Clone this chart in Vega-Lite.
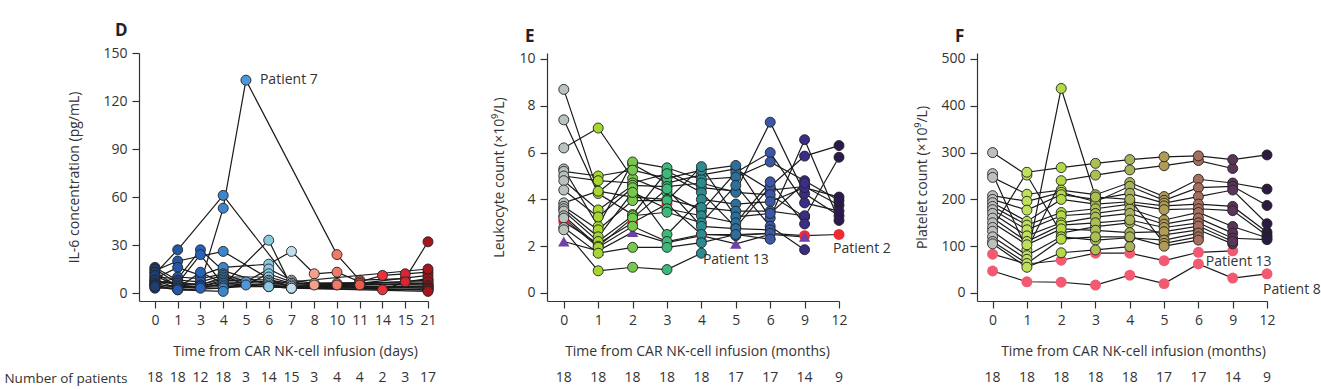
{
"$schema": "https://vega.github.io/schema/vega-lite/v6.json",
"padding": {"left": 3, "top": 22, "right": 0, "bottom": 0},
"background": "white",
"config": {
 "view": {"stroke": null},
 "font": "Open Sans",
 "axis": {"labelFont": "Open Sans", "titleFont": "Open Sans", "labelFontSize": 14, "titleFontSize": 14, "titleFontWeight": "normal", "labelColor": "#333", "titleColor": "#333", "domainColor": "#333", "tickColor": "#333", "domainWidth": 1.2, "tickWidth": 1.2, "tickSize": 7, "grid": false, "labelPadding": 5},
 "text": {"font": "Open Sans", "fontSize": 14, "color": "#333"}
},
"datasets": {
 "d": [
  {"p":1,"t":0,"v":8},{"p":1,"t":1,"v":5},{"p":1,"t":3,"v":6},{"p":1,"t":4,"v":53},{"p":1,"t":5,"v":133},{"p":1,"t":10,"v":24},{"p":1,"t":11,"v":8},{"p":1,"t":15,"v":9},{"p":1,"t":21,"v":32},
  {"p":2,"t":0,"v":12},{"p":2,"t":1,"v":27},{"p":2,"t":4,"v":61},{"p":2,"t":7,"v":6},{"p":2,"t":21,"v":5},
  {"p":3,"t":0,"v":10},{"p":3,"t":1,"v":9},{"p":3,"t":3,"v":27},{"p":3,"t":4,"v":14},{"p":3,"t":6,"v":5},{"p":3,"t":7,"v":5},{"p":3,"t":21,"v":6},
  {"p":4,"t":0,"v":7},{"p":4,"t":1,"v":6},{"p":4,"t":3,"v":24},{"p":4,"t":4,"v":5},{"p":4,"t":6,"v":33},{"p":4,"t":7,"v":4},{"p":4,"t":21,"v":4},
  {"p":5,"t":0,"v":14},{"p":5,"t":1,"v":20},{"p":5,"t":4,"v":26},{"p":5,"t":6,"v":9},{"p":5,"t":7,"v":3},{"p":5,"t":21,"v":8},
  {"p":6,"t":0,"v":9},{"p":6,"t":1,"v":16},{"p":6,"t":3,"v":11},{"p":6,"t":4,"v":16},{"p":6,"t":6,"v":18},{"p":6,"t":7,"v":26},{"p":6,"t":8,"v":12},{"p":6,"t":10,"v":13},{"p":6,"t":11,"v":7},{"p":6,"t":14,"v":11},{"p":6,"t":15,"v":12},{"p":6,"t":21,"v":13},
  {"p":7,"t":0,"v":5},{"p":7,"t":1,"v":10},{"p":7,"t":3,"v":9},{"p":7,"t":4,"v":12},{"p":7,"t":5,"v":7},{"p":7,"t":6,"v":15},{"p":7,"t":7,"v":8},{"p":7,"t":8,"v":6},{"p":7,"t":10,"v":6},{"p":7,"t":11,"v":6},{"p":7,"t":21,"v":11},
  {"p":8,"t":0,"v":16},{"p":8,"t":1,"v":8},{"p":8,"t":3,"v":7},{"p":8,"t":4,"v":11},{"p":8,"t":5,"v":5},{"p":8,"t":6,"v":12},{"p":8,"t":7,"v":7},{"p":8,"t":8,"v":5},{"p":8,"t":10,"v":5},{"p":8,"t":11,"v":5},{"p":8,"t":14,"v":2},{"p":8,"t":15,"v":7},{"p":8,"t":21,"v":9},
  {"p":9,"t":0,"v":6},{"p":9,"t":1,"v":7},{"p":9,"t":3,"v":5},{"p":9,"t":4,"v":10},{"p":9,"t":6,"v":10},{"p":9,"t":7,"v":6},{"p":9,"t":21,"v":7},
  {"p":10,"t":0,"v":15},{"p":10,"t":1,"v":6},{"p":10,"t":3,"v":5},{"p":10,"t":4,"v":9},{"p":10,"t":6,"v":8},{"p":10,"t":7,"v":6},{"p":10,"t":21,"v":5},
  {"p":11,"t":0,"v":4},{"p":11,"t":1,"v":5},{"p":11,"t":3,"v":4},{"p":11,"t":4,"v":8},{"p":11,"t":6,"v":7},{"p":11,"t":7,"v":5},{"p":11,"t":21,"v":4},
  {"p":12,"t":0,"v":13},{"p":12,"t":1,"v":4},{"p":12,"t":3,"v":4},{"p":12,"t":4,"v":7},{"p":12,"t":6,"v":6},{"p":12,"t":7,"v":5},{"p":12,"t":21,"v":3},
  {"p":13,"t":0,"v":11},{"p":13,"t":1,"v":4},{"p":13,"t":3,"v":3},{"p":13,"t":4,"v":6},{"p":13,"t":6,"v":5},{"p":13,"t":7,"v":4},{"p":13,"t":21,"v":3},
  {"p":14,"t":0,"v":3},{"p":14,"t":1,"v":3},{"p":14,"t":3,"v":13},{"p":14,"t":4,"v":6},{"p":14,"t":6,"v":4},{"p":14,"t":7,"v":4},{"p":14,"t":21,"v":2},
  {"p":15,"t":0,"v":8},{"p":15,"t":1,"v":3},{"p":15,"t":4,"v":5},{"p":15,"t":6,"v":4},{"p":15,"t":7,"v":3},{"p":15,"t":21,"v":2},
  {"p":16,"t":0,"v":6},{"p":16,"t":1,"v":3},{"p":16,"t":4,"v":4},{"p":16,"t":6,"v":4},{"p":16,"t":7,"v":3},{"p":16,"t":21,"v":1},
  {"p":17,"t":0,"v":5},{"p":17,"t":1,"v":2},{"p":17,"t":4,"v":3},{"p":17,"t":21,"v":15},
  {"p":18,"t":0,"v":4},{"p":18,"t":1,"v":2},{"p":18,"t":4,"v":1}
 ],
 "dn": [
  {"t":0,"n":18,"row":"Number of patients"},{"t":1,"n":18,"row":"Number of patients"},{"t":3,"n":12,"row":"Number of patients"},{"t":4,"n":18,"row":"Number of patients"},{"t":5,"n":3,"row":"Number of patients"},{"t":6,"n":14,"row":"Number of patients"},{"t":7,"n":15,"row":"Number of patients"},{"t":8,"n":3,"row":"Number of patients"},{"t":10,"n":4,"row":"Number of patients"},{"t":11,"n":4,"row":"Number of patients"},{"t":14,"n":2,"row":"Number of patients"},{"t":15,"n":3,"row":"Number of patients"},{"t":21,"n":17,"row":"Number of patients"}
 ],
 "e": [
  {"p":1,"s":"n","t":0,"v":8.7},{"p":1,"s":"n","t":1,"v":4.3},{"p":1,"s":"n","t":2,"v":5.5},{"p":1,"s":"n","t":3,"v":4.7},{"p":1,"s":"n","t":4,"v":5.05},{"p":1,"s":"n","t":5,"v":5.3},{"p":1,"s":"n","t":6,"v":4.4},{"p":1,"s":"n","t":9,"v":4.55},{"p":1,"s":"n","t":12,"v":3.75},
  {"p":2,"s":"n","t":0,"v":7.4},{"p":2,"s":"n","t":1,"v":4.25},{"p":2,"s":"n","t":2,"v":3.35},{"p":2,"s":"n","t":3,"v":5.2},{"p":2,"s":"n","t":4,"v":4.5},{"p":2,"s":"n","t":5,"v":4.35},{"p":2,"s":"n","t":6,"v":7.3},{"p":2,"s":"n","t":9,"v":4.25},{"p":2,"s":"n","t":12,"v":3.3},
  {"p":3,"s":"n","t":0,"v":6.2},{"p":3,"s":"n","t":1,"v":7.05},{"p":3,"s":"n","t":2,"v":4.9},{"p":3,"s":"n","t":3,"v":4.3},{"p":3,"s":"n","t":4,"v":3.5},{"p":3,"s":"n","t":5,"v":5.15},{"p":3,"s":"n","t":6,"v":6.0},{"p":3,"s":"n","t":9,"v":3.85},{"p":3,"s":"n","t":12,"v":3.5},
  {"p":4,"s":"n","t":0,"v":5.3},{"p":4,"s":"n","t":1,"v":2.85},{"p":4,"s":"n","t":2,"v":5.6},{"p":4,"s":"n","t":3,"v":5.35},{"p":4,"s":"n","t":4,"v":4.85},{"p":4,"s":"n","t":5,"v":4.95},{"p":4,"s":"n","t":6,"v":5.6},{"p":4,"s":"n","t":9,"v":4.8},{"p":4,"s":"n","t":12,"v":3.95},
  {"p":5,"s":"n","t":0,"v":5.2},{"p":5,"s":"n","t":1,"v":5.0},{"p":5,"s":"n","t":2,"v":5.25},{"p":5,"s":"n","t":3,"v":4.9},{"p":5,"s":"n","t":4,"v":5.25},{"p":5,"s":"n","t":5,"v":5.45},{"p":5,"s":"n","t":6,"v":3.2},{"p":5,"s":"n","t":9,"v":6.55},{"p":5,"s":"n","t":12,"v":3.1},
  {"p":6,"s":"n","t":0,"v":5.0},{"p":6,"s":"n","t":1,"v":4.8},{"p":6,"s":"n","t":2,"v":4.7},{"p":6,"s":"n","t":3,"v":5.1},{"p":6,"s":"n","t":4,"v":4.3},{"p":6,"s":"n","t":5,"v":2.8},{"p":6,"s":"n","t":6,"v":4.55},{"p":6,"s":"n","t":9,"v":5.85},{"p":6,"s":"n","t":12,"v":6.3},
  {"p":7,"s":"n","t":0,"v":4.8},{"p":7,"s":"n","t":1,"v":3.55},{"p":7,"s":"n","t":2,"v":4.6},{"p":7,"s":"n","t":3,"v":4.55},{"p":7,"s":"n","t":4,"v":4.7},{"p":7,"s":"n","t":5,"v":4.3},{"p":7,"s":"n","t":6,"v":4.2},{"p":7,"s":"n","t":9,"v":3.25},{"p":7,"s":"n","t":12,"v":5.8},
  {"p":8,"s":"n","t":0,"v":4.4},{"p":8,"s":"n","t":1,"v":3.25},{"p":8,"s":"n","t":2,"v":4.5},{"p":8,"s":"n","t":3,"v":2.5},{"p":8,"s":"n","t":4,"v":4.0},{"p":8,"s":"n","t":5,"v":3.8},{"p":8,"s":"n","t":6,"v":3.9},{"p":8,"s":"n","t":9,"v":4.5},{"p":8,"s":"n","t":12,"v":4.1},
  {"p":9,"s":"n","t":0,"v":3.85},{"p":9,"s":"n","t":1,"v":4.35},{"p":9,"s":"n","t":2,"v":4.1},{"p":9,"s":"n","t":3,"v":4.0},{"p":9,"s":"n","t":4,"v":3.65},{"p":9,"s":"n","t":5,"v":3.5},{"p":9,"s":"n","t":6,"v":3.5},{"p":9,"s":"n","t":9,"v":3.3},
  {"p":10,"s":"n","t":0,"v":3.7},{"p":10,"s":"n","t":1,"v":2.7},{"p":10,"s":"n","t":2,"v":3.95},{"p":10,"s":"n","t":3,"v":3.95},{"p":10,"s":"n","t":4,"v":5.4},{"p":10,"s":"n","t":5,"v":3.25},{"p":10,"s":"n","t":6,"v":3.4},{"p":10,"s":"n","t":9,"v":4.7},
  {"p":11,"s":"n","t":0,"v":3.6},{"p":11,"s":"n","t":1,"v":2.4},{"p":11,"s":"n","t":2,"v":4.3},{"p":11,"s":"n","t":3,"v":3.6},{"p":11,"s":"n","t":4,"v":3.3},{"p":11,"s":"n","t":5,"v":3.0},{"p":11,"s":"n","t":6,"v":4.75},{"p":11,"s":"n","t":9,"v":2.95},
  {"p":12,"s":"n","t":0,"v":3.5},{"p":12,"s":"n","t":1,"v":2.2},{"p":12,"s":"n","t":2,"v":3.3},{"p":12,"s":"n","t":3,"v":3.45},{"p":12,"s":"n","t":4,"v":3.0},{"p":12,"s":"n","t":5,"v":4.6},{"p":12,"s":"n","t":6,"v":2.85},{"p":12,"s":"n","t":9,"v":1.85},
  {"p":13,"s":"n","t":0,"v":3.3},{"p":13,"s":"n","t":1,"v":2.0},{"p":13,"s":"n","t":2,"v":3.2},{"p":13,"s":"n","t":3,"v":4.45},{"p":13,"s":"n","t":4,"v":2.85},{"p":13,"s":"n","t":5,"v":2.75},{"p":13,"s":"n","t":6,"v":2.7},
  {"p":14,"s":"n","t":0,"v":3.2},{"p":14,"s":"n","t":1,"v":1.95},{"p":14,"s":"n","t":2,"v":2.85},{"p":14,"s":"n","t":3,"v":2.2},{"p":14,"s":"n","t":4,"v":2.5},{"p":14,"s":"n","t":5,"v":2.45},{"p":14,"s":"n","t":6,"v":2.55},
  {"p":15,"s":"n","t":0,"v":2.8},{"p":15,"s":"n","t":1,"v":1.7},{"p":15,"s":"n","t":2,"v":1.95},{"p":15,"s":"n","t":3,"v":1.95},{"p":15,"s":"n","t":4,"v":2.15},{"p":15,"s":"n","t":5,"v":2.5},{"p":15,"s":"n","t":6,"v":2.3},
  {"p":16,"s":"n","t":0,"v":2.7},{"p":16,"s":"n","t":1,"v":0.95},{"p":16,"s":"n","t":2,"v":1.1},{"p":16,"s":"n","t":3,"v":1.0},{"p":16,"s":"n","t":4,"v":1.7},
  {"p":17,"s":"r","t":0,"v":3.05},{"p":17,"s":"r","t":1,"v":2.1},{"p":17,"s":"r","t":2,"v":3.0},{"p":17,"s":"r","t":3,"v":3.8},{"p":17,"s":"r","t":4,"v":2.5},{"p":17,"s":"r","t":5,"v":2.5},{"p":17,"s":"r","t":6,"v":2.55},{"p":17,"s":"r","t":9,"v":2.45},{"p":17,"s":"r","t":12,"v":2.5},
  {"p":18,"s":"tri","t":0,"v":2.2},{"p":18,"s":"tri","t":1,"v":1.8},{"p":18,"s":"tri","t":2,"v":2.6},{"p":18,"s":"tri","t":3,"v":2.15},{"p":18,"s":"tri","t":4,"v":2.45},{"p":18,"s":"tri","t":5,"v":2.1},{"p":18,"s":"tri","t":6,"v":2.5},{"p":18,"s":"tri","t":9,"v":2.4}
 ],
 "en": [
  {"t":0,"n":18},{"t":1,"n":18},{"t":2,"n":18},{"t":3,"n":18},{"t":4,"n":18},{"t":5,"n":17},{"t":6,"n":17},{"t":9,"n":14},{"t":12,"n":9}
 ],
 "f": [
  {"p":1,"s":"n","t":0,"v":300},{"p":1,"s":"n","t":1,"v":252},{"p":1,"s":"n","t":2,"v":128},{"p":1,"s":"n","t":3,"v":142},{"p":1,"s":"n","t":4,"v":150},{"p":1,"s":"n","t":5,"v":124},{"p":1,"s":"n","t":6,"v":135},{"p":1,"s":"n","t":9,"v":105},
  {"p":2,"s":"n","t":0,"v":255},{"p":2,"s":"n","t":1,"v":92},{"p":2,"s":"n","t":2,"v":240},{"p":2,"s":"n","t":3,"v":252},{"p":2,"s":"n","t":4,"v":263},{"p":2,"s":"n","t":5,"v":272},{"p":2,"s":"n","t":6,"v":283},{"p":2,"s":"n","t":9,"v":266},
  {"p":3,"s":"n","t":0,"v":247},{"p":3,"s":"n","t":1,"v":211},{"p":3,"s":"n","t":2,"v":220},{"p":3,"s":"n","t":3,"v":210},{"p":3,"s":"n","t":4,"v":236},{"p":3,"s":"n","t":5,"v":206},{"p":3,"s":"n","t":6,"v":243},{"p":3,"s":"n","t":9,"v":235},{"p":3,"s":"n","t":12,"v":222},
  {"p":4,"s":"n","t":0,"v":208},{"p":4,"s":"n","t":1,"v":196},{"p":4,"s":"n","t":2,"v":215},{"p":4,"s":"n","t":3,"v":195},{"p":4,"s":"n","t":4,"v":228},{"p":4,"s":"n","t":5,"v":198},{"p":4,"s":"n","t":6,"v":225},{"p":4,"s":"n","t":9,"v":228},{"p":4,"s":"n","t":12,"v":187},
  {"p":5,"s":"n","t":0,"v":200},{"p":5,"s":"n","t":1,"v":177},{"p":5,"s":"n","t":2,"v":210},{"p":5,"s":"n","t":3,"v":200},{"p":5,"s":"n","t":4,"v":213},{"p":5,"s":"n","t":5,"v":192},{"p":5,"s":"n","t":6,"v":206},{"p":5,"s":"n","t":9,"v":220},{"p":5,"s":"n","t":12,"v":148},
  {"p":6,"s":"n","t":0,"v":193},{"p":6,"s":"n","t":1,"v":153},{"p":6,"s":"n","t":2,"v":200},{"p":6,"s":"n","t":3,"v":190},{"p":6,"s":"n","t":4,"v":195},{"p":6,"s":"n","t":5,"v":186},{"p":6,"s":"n","t":6,"v":190},{"p":6,"s":"n","t":9,"v":185},{"p":6,"s":"n","t":12,"v":130},
  {"p":7,"s":"n","t":0,"v":185},{"p":7,"s":"n","t":1,"v":145},{"p":7,"s":"n","t":2,"v":172},{"p":7,"s":"n","t":3,"v":180},{"p":7,"s":"n","t":4,"v":190},{"p":7,"s":"n","t":5,"v":178},{"p":7,"s":"n","t":6,"v":180},{"p":7,"s":"n","t":9,"v":176},{"p":7,"s":"n","t":12,"v":123},
  {"p":8,"s":"n","t":0,"v":178},{"p":8,"s":"n","t":1,"v":135},{"p":8,"s":"n","t":2,"v":165},{"p":8,"s":"n","t":3,"v":170},{"p":8,"s":"n","t":4,"v":180},{"p":8,"s":"n","t":5,"v":156},{"p":8,"s":"n","t":6,"v":172},{"p":8,"s":"n","t":9,"v":142},{"p":8,"s":"n","t":12,"v":118},
  {"p":9,"s":"n","t":0,"v":170},{"p":9,"s":"n","t":1,"v":122},{"p":9,"s":"n","t":2,"v":150},{"p":9,"s":"n","t":3,"v":162},{"p":9,"s":"n","t":4,"v":170},{"p":9,"s":"n","t":5,"v":147},{"p":9,"s":"n","t":6,"v":160},{"p":9,"s":"n","t":9,"v":128},
  {"p":10,"s":"n","t":0,"v":160},{"p":10,"s":"n","t":1,"v":110},{"p":10,"s":"n","t":2,"v":145},{"p":10,"s":"n","t":3,"v":150},{"p":10,"s":"n","t":4,"v":156},{"p":10,"s":"n","t":5,"v":140},{"p":10,"s":"n","t":6,"v":150},{"p":10,"s":"n","t":9,"v":117},{"p":10,"s":"n","t":12,"v":114},
  {"p":11,"s":"n","t":0,"v":150},{"p":11,"s":"n","t":1,"v":103},{"p":11,"s":"n","t":2,"v":137},{"p":11,"s":"n","t":3,"v":134},{"p":11,"s":"n","t":4,"v":129},{"p":11,"s":"n","t":5,"v":131},{"p":11,"s":"n","t":6,"v":143},{"p":11,"s":"n","t":9,"v":110},
  {"p":12,"s":"n","t":0,"v":140},{"p":12,"s":"n","t":1,"v":258},{"p":12,"s":"n","t":2,"v":268},{"p":12,"s":"n","t":3,"v":277},{"p":12,"s":"n","t":4,"v":285},{"p":12,"s":"n","t":5,"v":291},{"p":12,"s":"n","t":6,"v":293},{"p":12,"s":"n","t":9,"v":285},{"p":12,"s":"n","t":12,"v":295},
  {"p":13,"s":"n","t":0,"v":132},{"p":13,"s":"n","t":1,"v":80},{"p":13,"s":"n","t":2,"v":120},{"p":13,"s":"n","t":3,"v":113},{"p":13,"s":"n","t":4,"v":118},{"p":13,"s":"n","t":5,"v":113},{"p":13,"s":"n","t":6,"v":128},
  {"p":14,"s":"n","t":0,"v":120},{"p":14,"s":"n","t":1,"v":72},{"p":14,"s":"n","t":2,"v":437},{"p":14,"s":"n","t":3,"v":205},{"p":14,"s":"n","t":4,"v":200},{"p":14,"s":"n","t":5,"v":106},{"p":14,"s":"n","t":6,"v":120},
  {"p":15,"s":"n","t":0,"v":110},{"p":15,"s":"n","t":1,"v":63},{"p":15,"s":"n","t":2,"v":115},{"p":15,"s":"n","t":3,"v":120},{"p":15,"s":"n","t":4,"v":120},{"p":15,"s":"n","t":5,"v":100},{"p":15,"s":"n","t":6,"v":113},
  {"p":16,"s":"n","t":0,"v":105},{"p":16,"s":"n","t":1,"v":55},{"p":16,"s":"n","t":2,"v":86},{"p":16,"s":"n","t":3,"v":92},{"p":16,"s":"n","t":4,"v":99},
  {"p":17,"s":"pk","t":0,"v":83},{"p":17,"s":"pk","t":1,"v":62},{"p":17,"s":"pk","t":2,"v":70},{"p":17,"s":"pk","t":3,"v":85},{"p":17,"s":"pk","t":4,"v":85},{"p":17,"s":"pk","t":5,"v":69},{"p":17,"s":"pk","t":6,"v":87},{"p":17,"s":"pk","t":9,"v":90},
  {"p":18,"s":"pk","t":0,"v":47},{"p":18,"s":"pk","t":1,"v":24},{"p":18,"s":"pk","t":2,"v":23},{"p":18,"s":"pk","t":3,"v":17},{"p":18,"s":"pk","t":4,"v":38},{"p":18,"s":"pk","t":5,"v":20},{"p":18,"s":"pk","t":6,"v":62},{"p":18,"s":"pk","t":9,"v":32},{"p":18,"s":"pk","t":12,"v":41}
 ]
},
"bounds": "flush",
"columns": 3,
"spacing": {"row": 69, "column": 119},
"resolve": {"scale": {"x": "independent", "y": "independent", "fill": "independent"}},
"concat": [
 {
  "width": 289, "height": 248,
  "title": {"text": "D", "anchor": "start", "frame": "group", "dx": -24, "dy": 2, "offset": -5, "baseline": "alphabetic", "fontSize": 17, "fontWeight": "bold", "color": "#222", "font": "Open Sans"},
  "data": {"name": "d"},
  "encoding": {
   "x": {"field": "t", "type": "ordinal", "scale": {"type": "point", "domain": [0,1,3,4,5,6,7,8,10,11,14,15,21], "padding": 0.35, "align": 1}, "axis": {"labelAngle": 0, "title": "Time from CAR NK-cell infusion (days)", "titleX": 156, "titlePadding": 17}},
   "y": {"field": "v", "type": "quantitative", "scale": {"domain": [-5, 150], "nice": false, "zero": false}, "axis": {"values": [0,30,60,90,120,150], "title": "IL-6 concentration (pg/mL)", "titlePadding": 21}}
  },
  "layer": [
   {"mark": {"type": "line", "color": "#1a1a1a", "strokeWidth": 1.2}, "encoding": {"detail": {"field": "p"}, "order": {"field": "t", "type": "quantitative"}}},
   {"mark": {"type": "circle", "size": 100, "opacity": 1, "fillOpacity": 1, "stroke": "#222", "strokeWidth": 0.9},
    "encoding": {"fill": {"field": "t", "type": "ordinal", "scale": {"domain": [0,1,3,4,5,6,7,8,10,11,14,15,21], "range": ["#1f3d70","#2358a8","#2a62b8","#3d86cc","#4f97d6","#8ac8e2","#c2dcf0","#f4a08a","#ee7a68","#ec5a48","#e8333b","#d62631","#a3161e"]}, "legend": null}}},
   {"data": {"values": [{"t": 5, "v": 133, "label": "Patient 7"}]}, "mark": {"type": "text", "align": "left", "dx": 14}, "encoding": {"text": {"field": "label"}}}
  ]
 },
 {
  "width": 292, "height": 248,
  "title": {"text": "E", "anchor": "start", "frame": "group", "dx": -22, "dy": 2, "offset": -5, "baseline": "alphabetic", "fontSize": 17, "fontWeight": "bold", "color": "#222", "font": "Open Sans"},
  "data": {"name": "e"},
  "encoding": {
   "x": {"field": "t", "type": "ordinal", "scale": {"type": "point", "domain": [0,1,2,3,4,5,6,9,12], "padding": 0.244, "align": 1}, "axis": {"labelAngle": 0, "title": "Time from CAR NK-cell infusion (months)", "titleX": 150, "titlePadding": 17}},
   "y": {"field": "v", "type": "quantitative", "scale": {"domain": [-0.342, 10.256], "nice": false, "zero": false}, "axis": {"values": [0,2,4,6,8,10], "title": "Leukocyte count (×10⁹/L)", "titlePadding": 12}}
  },
  "layer": [
   {"mark": {"type": "line", "color": "#1a1a1a", "strokeWidth": 1.2}, "encoding": {"detail": {"field": "p"}, "order": {"field": "t", "type": "quantitative"}}},
   {"transform": [{"filter": "datum.s == 'r'"}], "mark": {"type": "circle", "size": 120, "opacity": 1, "color": "#ee2a35"}},
   {"transform": [{"filter": "datum.s == 'tri'"}], "mark": {"type": "point", "shape": "triangle-up", "filled": true, "size": 130, "opacity": 1, "color": "#7040a8"}},
   {"transform": [{"filter": "datum.s == 'n'"}], "mark": {"type": "circle", "size": 100, "opacity": 1, "fillOpacity": 1, "stroke": "#222", "strokeWidth": 0.9},
    "encoding": {"fill": {"field": "t", "type": "ordinal", "scale": {"domain": [0,1,2,3,4,5,6,9,12], "range": ["#b9c2bd","#a5d631","#78c850","#3dba78","#2a8c90","#2c6f9c","#3b57a6","#3a2d86","#2a1a4f"]}, "legend": null}}},
   {"data": {"values": [{"t": 5, "v": 1.4, "label": "Patient 13"}]}, "mark": {"type": "text", "align": "center"}, "encoding": {"text": {"field": "label"}}},
   {"data": {"values": [{"t": 12, "v": 1.9, "label": "Patient 2"}]}, "mark": {"type": "text", "align": "left", "dx": -6}, "encoding": {"text": {"field": "label"}}}
  ]
 },
 {
  "width": 290, "height": 248,
  "title": {"text": "F", "anchor": "start", "frame": "group", "dx": -22, "dy": 2, "offset": -5, "baseline": "alphabetic", "fontSize": 17, "fontWeight": "bold", "color": "#222", "font": "Open Sans"},
  "data": {"name": "f"},
  "encoding": {
   "x": {"field": "t", "type": "ordinal", "scale": {"type": "point", "domain": [0,1,2,3,4,5,6,9,12], "padding": 0.2274, "align": 1}, "axis": {"labelAngle": 0, "title": "Time from CAR NK-cell infusion (months)", "titleX": 156, "titlePadding": 17}},
   "y": {"field": "v", "type": "quantitative", "scale": {"domain": [-17.1, 512.8], "nice": false, "zero": false}, "axis": {"values": [0,100,200,300,400,500], "title": "Platelet count (×10⁹/L)", "titlePadding": 11}}
  },
  "layer": [
   {"mark": {"type": "line", "color": "#1a1a1a", "strokeWidth": 1.2}, "encoding": {"detail": {"field": "p"}, "order": {"field": "t", "type": "quantitative"}}},
   {"transform": [{"filter": "datum.s == 'pk'"}], "mark": {"type": "circle", "size": 120, "opacity": 1, "color": "#f25a72"}},
   {"transform": [{"filter": "datum.s == 'n'"}], "mark": {"type": "circle", "size": 100, "opacity": 1, "fillOpacity": 1, "stroke": "#222", "strokeWidth": 0.9},
    "encoding": {"fill": {"field": "t", "type": "ordinal", "scale": {"domain": [0,1,2,3,4,5,6,9,12], "range": ["#bcc0bc","#bfe05a","#b2da45","#aac052","#a9b25a","#b09c55","#a46f5f","#5a3558","#2b1b40"]}, "legend": null}}},
   {"data": {"values": [{"t": 9, "v": 66, "label": "Patient 13"}]}, "mark": {"type": "text", "align": "center", "dx": 6}, "encoding": {"text": {"field": "label"}}},
   {"data": {"values": [{"t": 12, "v": 6, "label": "Patient 8"}]}, "mark": {"type": "text", "align": "left", "dx": -4}, "encoding": {"text": {"field": "label"}}}
  ]
 },
 {
  "width": 289, "height": 16,
  "data": {"name": "dn"},
  "mark": {"type": "text"},
  "encoding": {
   "x": {"field": "t", "type": "ordinal", "scale": {"type": "point", "domain": [0,1,3,4,5,6,7,8,10,11,14,15,21], "padding": 0.35, "align": 1}, "axis": null},
   "y": {"field": "row", "type": "nominal", "axis": {"title": null, "domain": false, "ticks": false, "labelPadding": 12, "labelFontSize": 13.5}},
   "text": {"field": "n"}
  }
 },
 {
  "width": 311, "height": 16,
  "data": {"name": "en"},
  "mark": {"type": "text"},
  "encoding": {
   "x": {"field": "t", "type": "ordinal", "scale": {"type": "point", "domain": [0,1,2,3,4,5,6,9,12], "padding": 0.5205, "align": 0.469}, "axis": null},
   "text": {"field": "n"}
  }
 },
 {
  "width": 290, "height": 16,
  "data": {"name": "en"},
  "mark": {"type": "text"},
  "encoding": {
   "x": {"field": "t", "type": "ordinal", "scale": {"type": "point", "domain": [0,1,2,3,4,5,6,9,12], "padding": 0.2274, "align": 1}, "axis": null},
   "text": {"field": "n"}
  }
 }
]
}
